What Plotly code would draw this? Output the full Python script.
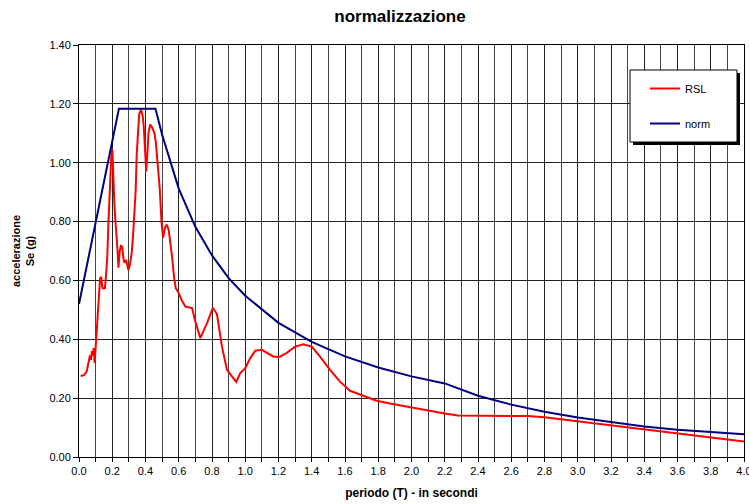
import plotly.graph_objects as go

# ---- data ----
t_rsl = [0.01, 0.03, 0.046, 0.058, 0.066, 0.072, 0.078, 0.084, 0.088, 0.094, 0.1, 0.106,
         0.112, 0.12, 0.127, 0.134, 0.14, 0.148, 0.156, 0.163, 0.17, 0.177, 0.184, 0.19,
         0.196, 0.201, 0.207, 0.213, 0.218, 0.226, 0.232, 0.237, 0.245, 0.252, 0.26, 0.268,
         0.275, 0.283, 0.29, 0.297, 0.305, 0.317, 0.326, 0.334, 0.341, 0.347, 0.355, 0.362,
         0.373, 0.383, 0.39, 0.397, 0.404, 0.41, 0.418, 0.428, 0.44, 0.454, 0.462, 0.474,
         0.486, 0.496, 0.506, 0.518, 0.528, 0.54, 0.55, 0.56, 0.572, 0.582, 0.6, 0.62,
         0.64, 0.68, 0.70, 0.73, 0.77, 0.805, 0.83, 0.86, 0.89, 0.92, 0.946, 0.97, 1.0,
         1.03, 1.06, 1.1, 1.13, 1.17, 1.21, 1.25, 1.30, 1.35, 1.40, 1.45, 1.51, 1.57, 1.63,
         1.71, 1.79, 1.87, 1.97, 2.07, 2.2, 2.28, 2.5, 2.7, 2.8, 3.0, 3.2, 3.4, 3.6, 3.8, 4.0]
v_rsl = [0.275, 0.278, 0.29, 0.33, 0.345, 0.33, 0.36, 0.345, 0.37, 0.32, 0.38, 0.42,
         0.48, 0.57, 0.608, 0.612, 0.575, 0.572, 0.574, 0.62, 0.68, 0.795, 0.88, 0.98,
         1.045, 1.04, 0.92, 0.86, 0.81, 0.76, 0.70, 0.643, 0.70, 0.717, 0.714, 0.67,
         0.66, 0.67, 0.645, 0.635, 0.65, 0.693, 0.76, 0.83, 0.907, 1.026, 1.12, 1.165,
         1.18, 1.16, 1.12, 1.06, 0.97, 1.02, 1.10, 1.13, 1.12, 1.10, 1.07, 0.99,
         0.91, 0.80, 0.745, 0.78, 0.79, 0.77, 0.73, 0.68, 0.61, 0.574, 0.557, 0.53,
         0.511, 0.506, 0.46, 0.404, 0.455, 0.507, 0.485, 0.375, 0.296, 0.273, 0.255, 0.285, 0.302,
         0.336, 0.361, 0.364, 0.353, 0.341, 0.341, 0.354, 0.375, 0.383, 0.375, 0.341, 0.296, 0.256, 0.225,
         0.207, 0.191, 0.182, 0.171, 0.162, 0.148, 0.141, 0.141, 0.139, 0.135, 0.121, 0.107, 0.093, 0.080, 0.066, 0.053]

t_norm = [0.0, 0.24, 0.46, 0.5, 0.6, 0.7, 0.8, 0.9, 1.0, 1.2, 1.4, 1.6, 1.8, 2.0, 2.2,
          2.4, 2.6, 2.8, 3.0, 3.2, 3.4, 3.6, 3.8, 4.0]
v_norm = [0.52, 1.183, 1.183, 1.095, 0.912, 0.782, 0.685, 0.608, 0.548, 0.456, 0.391, 0.342,
          0.304, 0.274, 0.250, 0.208, 0.178, 0.154, 0.134, 0.118, 0.104, 0.093, 0.084, 0.077]

y_ticks = [0.0, 0.2, 0.4, 0.6, 0.8, 1.0, 1.2, 1.4]
y_labels = ["0.00", "0.20", "0.40", "0.60", "0.80", "1.00", "1.20", "1.40"]
x_ticks = [round(0.2 * i, 1) for i in range(21)]
x_labels = ["%.1f" % v for v in x_ticks]

FONT = "Liberation Sans, Arial, sans-serif"

fig = go.Figure()
fig.add_trace(go.Scatter(x=t_rsl, y=v_rsl, mode="lines", name="RSL",
                         line=dict(color="#FF0000", width=2), legendgroup="a"))
fig.add_trace(go.Scatter(x=t_norm, y=v_norm, mode="lines", name="norm",
                         line=dict(color="#000080", width=2), legendgroup="b"))

L, R, T, B = 79, 5, 45, 47
W, H = 749, 504
pw, ph = W - L - R, H - T - B

def px(x):
    return (x - L) / pw

def py(y):
    return (H - B - y) / ph

# legend box with shadow
fig.add_shape(type="rect", xref="paper", yref="paper",
              x0=px(633), x1=px(740), y0=py(145), y1=py(73),
              fillcolor="black", line=dict(width=0), layer="above")
fig.add_shape(type="rect", xref="paper", yref="paper",
              x0=px(630), x1=px(737), y0=py(142), y1=py(70),
              fillcolor="white", line=dict(color="black", width=1), layer="above")

fig.update_layout(
    width=W, height=H,
    margin=dict(l=L, r=R, t=T, b=B, autoexpand=False),
    paper_bgcolor="white", plot_bgcolor="white",
    font=dict(family=FONT, size=11, color="black"),
    title=dict(text="<b>normalizzazione</b>", x=400 / W, xanchor="center",
               y=1 - 16 / H, yanchor="middle", font=dict(size=17, family=FONT, color="black")),
    showlegend=True,
    legend=dict(x=px(645), y=py(74), xanchor="left", yanchor="top",
                bgcolor="rgba(0,0,0,0)", borderwidth=0, tracegroupgap=16,
                font=dict(size=11, family=FONT), itemwidth=30),
    xaxis=dict(range=[0, 4], tickvals=x_ticks, ticktext=x_labels,
               showgrid=True, gridcolor="#222222", gridwidth=1,
               minor=dict(dtick=0.1, showgrid=True, gridcolor="#444444", gridwidth=1,
                          ticks="outside", ticklen=4, tickcolor="black"),
               ticks="outside", ticklen=4, tickcolor="black",
               ticklabeloverflow="allow", automargin=False,
               showline=True, linecolor="black", linewidth=1, mirror=True,
               zeroline=False, tickfont=dict(size=11),
               title=dict(text="<b>periodo (T) - in secondi</b>", font=dict(size=12), standoff=12)),
    yaxis=dict(range=[0, 1.4], tickvals=y_ticks, ticktext=y_labels,
               showgrid=True, gridcolor="#222222", gridwidth=1,
               ticks="outside", ticklen=5, tickcolor="black",
               automargin=False,
               showline=True, linecolor="black", linewidth=1, mirror=True,
               zeroline=False, tickfont=dict(size=11),
               title=dict(text="<b>accelerazione<br>Se (g)</b>", font=dict(size=11), standoff=12)),
)

fig.write_html(
    "out.html", config={"displayModeBar": False},
    post_script=("document.body.style.margin='0';"
                 "document.body.style.overflow='hidden';"
                 "document.documentElement.style.overflow='hidden';"),
)
